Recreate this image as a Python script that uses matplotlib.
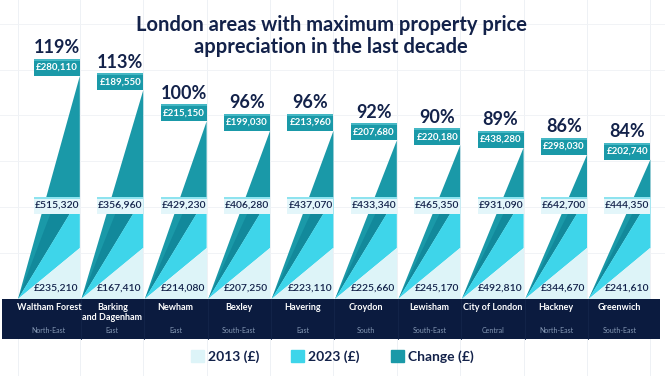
import matplotlib.pyplot as plt
from matplotlib.patches import Polygon, Rectangle, Patch

# data
areas = ['Waltham Forest', 'Barking\nand Dagenham', 'Newham', 'Bexley', 'Havering',
         'Croydon', 'Lewisham', 'City of London', 'Hackney', 'Greenwich']
regions = ['North-East', 'East', 'East', 'South-East', 'East', 'South', 'South-East',
           'Central', 'North-East', 'South-East']
price_2013 = [235210, 167410, 214080, 207250, 223110, 225660, 245170, 492810, 344670, 241610]
price_2023 = [515320, 356960, 429230, 406280, 437070, 433340, 465350, 931090, 642700, 444350]
change = [280110, 189550, 215150, 199030, 213960, 207680, 220180, 438280, 298030, 202740]
pct_change = [119, 113, 100, 96, 96, 92, 90, 89, 86, 84]

# colours
teal = '#1a99a8'
teal_dark = '#12899b'
cyan = '#3ed5ea'
light = '#ddf4f8'
navy = '#0b1b3f'
text_navy = '#13224a'

plt.rcParams['font.family'] = ['Lato', 'DejaVu Sans']

fig = plt.figure(figsize=(6.65, 3.76), dpi=100)
ax = fig.add_axes([0, 0, 1, 1])
ax.set_xlim(-0.284, 10.205)
ax.set_ylim(-1.51, 5.863)
ax.axis('off')

w = 0.975          # column width
lvl13, lvl23 = 1.0, 2.0
box_w, box_h = 0.726, 0.333


def top_of(p):
    # wedge apex grows with the percentage change
    return lvl23 + (p - 68.3) * 0.0468


# faint background grid
for k in range(11):
    ax.axvline(k - 1 + w if k else 0, color='#eef1f5', lw=0.7, zorder=0)
for k in range(1, 7):
    ax.axhline(k * 0.9, color='#f1f3f6', lw=0.7, zorder=0)

for i in range(len(areas)):
    x0, x1 = i, i + w
    top = top_of(pct_change[i])

    ax.add_patch(Polygon([(x0, 0), (x1, lvl23), (x1, top)], color=teal, lw=0, zorder=2))
    # darker shade under the 2023 box
    yb = lvl23 - box_h
    mid = (top + lvl23) / 2
    ax.add_patch(Polygon([(x0, 0), (x0 + w * yb / mid, yb), (x0 + w * yb / lvl23, yb)],
                         color=teal_dark, lw=0, zorder=2))
    ax.add_patch(Polygon([(x0, 0), (x1, lvl13), (x1, lvl23)], color=cyan, lw=0, zorder=2))
    ax.add_patch(Polygon([(x0, 0), (x1, 0), (x1, lvl13)], color=light, lw=0, zorder=2))

    # change box
    ax.add_patch(Rectangle((x1 - box_w, top), box_w, box_h, color=teal, lw=0, zorder=3))
    ax.add_patch(Rectangle((x1 - box_w, top + box_h - 0.04), box_w, 0.04,
                           color='#45b7c4', lw=0, zorder=3))
    ax.text(x1 - box_w / 2, top + box_h / 2, f'£{change[i]:,}', ha='center', va='center',
            color='white', fontsize=7, fontweight='bold', zorder=4)
    ax.text(x1 - box_w / 2, top + box_h + 0.05, f'{pct_change[i]}%', ha='center',
            va='bottom', color=text_navy, fontsize=13, fontweight='bold', zorder=4)

    # 2023 box
    ax.add_patch(Rectangle((x1 - box_w, yb), box_w, box_h, color='#e3f6fa',
                           lw=0, zorder=3))
    ax.add_patch(Rectangle((x1 - box_w, lvl23 - 0.035), box_w, 0.035, color='#8ee3ef',
                           lw=0, zorder=3))
    ax.text(x1 - box_w / 2, lvl23 - box_h / 2, f'£{price_2023[i]:,}', ha='center',
            va='center', color=text_navy, fontsize=7.5, fontweight='semibold', zorder=4)

    # 2013 label
    ax.text(x0 + 0.6, 0.216, f'£{price_2013[i]:,}', ha='center', va='center',
            color=text_navy, fontsize=7.5, fontweight='semibold', zorder=4)

# bottom band with area names
ax.add_patch(Rectangle((-0.252, -0.78), 10.378, 0.78, color=navy, lw=0, zorder=3))
for i in range(len(areas)):
    cx = i + w / 2
    if i > 0:
        ax.plot([i - 0.01, i - 0.01], [-0.78, 0], color='#14254a', lw=0.6, zorder=3)
    ax.text(cx, -0.075, areas[i], ha='center', va='top', color='white', fontsize=6.5,
            fontweight='bold', linespacing=1.1, zorder=4)
    ax.text(cx, -0.608, regions[i], ha='center', va='center', color='#8699b5',
            fontsize=5, zorder=4)

# title
fig.text(0.498, 0.96, 'London areas with maximum property price\nappreciation in the last decade',
         ha='center', va='top', color=text_navy, fontsize=14.5, fontweight='bold',
         linespacing=1.15)

handles = [Patch(color=light), Patch(color=cyan), Patch(color=teal)]
fig.legend(handles, ['2013 (£)', '2023 (£)', 'Change (£)'], loc='center',
           bbox_to_anchor=(0.5, 0.052), ncol=3, frameon=False, handlelength=0.9,
           handleheight=0.9, handletextpad=0.3, columnspacing=2.3,
           prop={'weight': 'bold', 'size': 10}, labelcolor=text_navy)

fig.savefig('out.png', dpi=100)
